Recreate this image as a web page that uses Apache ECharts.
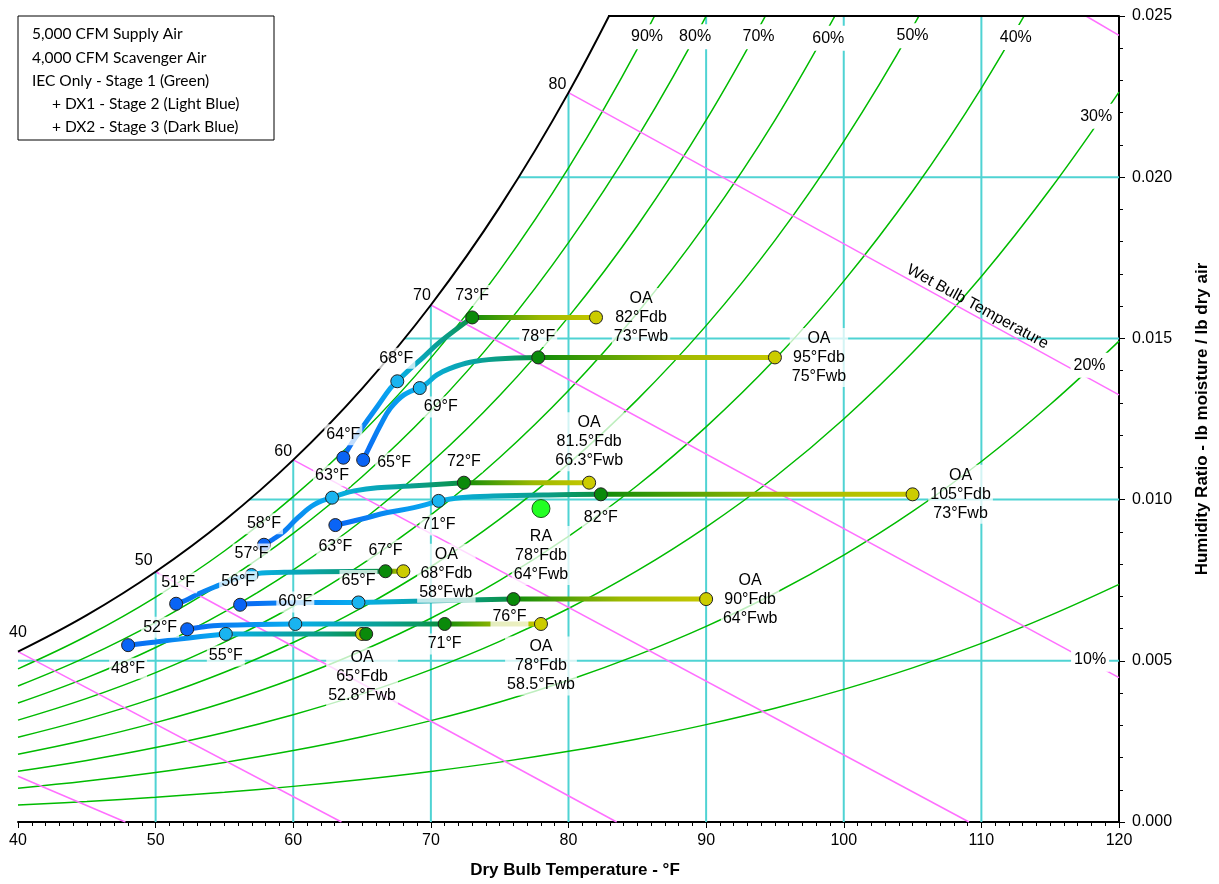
<!DOCTYPE html>
<html><head><meta charset="utf-8">
<script src="https://cdn.jsdelivr.net/npm/echarts@6/dist/echarts.min.js"></script>
<style>html,body{margin:0;padding:0;background:#fff;overflow:hidden;width:1219px;height:884px}#c{position:absolute;left:0;top:0;width:1219px;height:884px}</style>
</head><body><div id="c"></div>
<script>
// ---------- data ----------
const T5 = [40,45,50,55,60,65,70,75,80,85,90,95,100,105,110,115,120];
const sat  = [0.005283,0.006416,0.007762,0.009353,0.011232,0.013444,0.016036,0.019071,0.022623,0.026756];
const rh90 = [0.004751,0.005768,0.006977,0.008406,0.010091,0.012073,0.014396,0.017111,0.020289,0.023979,0.028263];
const rh80 = [0.004220,0.005123,0.006194,0.007461,0.008954,0.010709,0.012763,0.015164,0.017970,0.021226,0.024999,0.029367];
const rh70 = [0.003690,0.004478,0.005413,0.006518,0.007821,0.009351,0.011141,0.013229,0.015668,0.018495,0.021767,0.025548];
const rh60 = [0.003160,0.003834,0.004634,0.005579,0.006692,0.007998,0.009525,0.011306,0.013383,0.015787,0.018566,0.021772,0.025503];
const rh50 = [0.002631,0.003191,0.003857,0.004643,0.005567,0.006651,0.007917,0.009394,0.011114,0.013101,0.015396,0.018041,0.021112,0.024646,0.028715];
const rh40 = [0.002103,0.002551,0.003082,0.003708,0.004445,0.005310,0.006319,0.007492,0.008859,0.010437,0.012257,0.014351,0.016776,0.019564,0.022766,0.026439];
const rh30 = [0.001576,0.001911,0.002309,0.002777,0.003329,0.003973,0.004727,0.005603,0.006622,0.007796,0.009149,0.010702,0.012500,0.014560,0.016922,0.019625,0.022640];
const rh20 = [0.001050,0.001273,0.001538,0.001849,0.002215,0.002644,0.003144,0.003724,0.004399,0.005177,0.006069,0.007095,0.008278,0.009633,0.011182,0.012948,0.014915];
const rh10 = [0.000525,0.000636,0.000768,0.000923,0.001105,0.001319,0.001568,0.001857,0.002192,0.002577,0.003020,0.003528,0.004113,0.004780,0.005542,0.006409,0.007371];
const rhCurves = [rh90,rh80,rh70,rh60,rh50,rh40,rh30,rh20,rh10];
const rhLabelText = ['90%','80%','70%','60%','50%','40%','30%','20%','10%'];
const rhLabelAt = [[85.71,0.02436],[89.2,0.02436],[93.81,0.02436],[98.88,0.02431],[105.0,0.02439],[112.5,0.02433],[118.34,0.02189],[117.86,0.01417],[117.9,0.00505]];

const gridXs = [50,60,70,80,90,100,110];
const gridXTopW = [0.007762,0.011232,0.016036,0.022623,0.025,0.025,0.025];
const gridWs = [0.005,0.010,0.015,0.020];
const gridWFromT = [40,56.8,68.1,76.4];
const topEdge = [[82.88,0.025],[120,0.025]];

const wbLines = [
  [[40,0.00142],[47.8,0]],
  [[40,0.005283],[63.5,0]],
  [[50,0.007762],[83.5,0]],
  [[60,0.011232],[109.1,0]],
  [[70,0.016036],[120,0.00448]],
  [[80,0.022623],[120,0.01325]],
  [[117.6,0.025],[120,0.0244]]
];
const satLabelT = [40,50,60,70,80];
const satLabelW = [0.005283,0.007762,0.011232,0.016036,0.022623];

// process paths: IEC (OA -> green), DX1 (green -> light blue), DX2 (light blue -> dark blue)
const iecPaths = [
  [[82.0,0.01565],[73.0,0.01565]],
  [[95.0,0.01441],[77.8,0.01441]],
  [[81.5,0.010525],[72.4,0.010525]],
  [[105.0,0.010164],[82.35,0.010164]],
  [[68.0,0.007778],[66.7,0.007778]],
  [[90.0,0.006914],[76.0,0.006914]],
  [[78.0,0.006142],[71.0,0.006142]],
  [[65.0,0.005833],[65.3,0.005833]]
];
const dx1Paths = [
  [[73.0,0.01565],[70.68,0.0149],[69.48,0.01443],[68.28,0.01397],[67.56,0.01367]],
  [[77.8,0.01441],[74.77,0.01436],[72.85,0.01426],[71.4,0.01407],[70.44,0.01387],[69.72,0.01361],[69.19,0.01346]],
  [[72.4,0.010525],[68.52,0.01042],[66.11,0.01037],[64.43,0.01027],[63.47,0.01016],[62.82,0.01006]],
  [[82.35,0.010164],[79.34,0.01015],[74.53,0.01011],[72.12,0.01006],[70.56,0.00996]],
  [[66.7,0.007778],[59.6,0.00775],[57.7,0.00772],[56.97,0.00766]],
  [[76.0,0.006914],[64.74,0.00681]],
  [[71.0,0.006142],[60.15,0.006142]],
  [[65.3,0.005833],[55.1,0.005833]]
];
const dx2Paths = [
  [[67.56,0.01367],[67.07,0.01346],[66.11,0.01289],[65.15,0.01232],[64.19,0.01171],[63.64,0.0113]],
  [[69.19,0.01346],[68.04,0.01325],[67.07,0.01284],[66.35,0.01232],[65.63,0.01171],[65.08,0.01123]],
  [[62.82,0.01006],[61.55,0.00985],[60.34,0.00944],[59.38,0.00903],[58.54,0.00877],[57.87,0.0086]],
  [[70.56,0.00996],[68.76,0.00975],[66.84,0.0096],[64.91,0.00939],[63.06,0.00921]],
  [[56.97,0.00766],[55.77,0.00754],[54.57,0.00734],[53.13,0.00708],[52.17,0.00687],[51.49,0.00677]],
  [[64.74,0.00681],[60.0,0.0068],[56.74,0.00677],[56.14,0.006738]],
  [[60.15,0.006142],[54.81,0.0061],[53.37,0.00605],[52.29,0.005978]],
  [[55.1,0.005833],[52.41,0.00571],[50.0,0.005586],[48.0,0.005485]]
];
const oaDb = ['82','95','81.5','105','68','90','78','65'];
const oaWb = ['73','75','66.3','73','58','64','58.5','52.8'];
const greenLabels = ['73°F','78°F','72°F','82°F','67°F','76°F','71°F',''];
const lbLabels = ['68°F','69°F','63°F','71°F','57°F','65°F','60°F','55°F'];
const dbLabels = ['64°F','65°F','58°F','63°F','51°F','56°F','52°F','48°F'];
const raPoint = [78.0,0.009722];
const raText = 'RA\n78°Fdb\n64°Fwb';
const legendLines = ['5,000 CFM Supply Air','4,000 CFM Scavenger Air','IEC Only - Stage 1 (Green)','+ DX1 - Stage 2 (Light Blue)','+ DX2 - Stage 3 (Dark Blue)'];

// ---------- label placement (pixel offsets) ----------
const oaOff = [[45,0],[44,0],[0,-41],[48,0],[43,2],[44,1],[0,42],[0,43]];
const greenOff = [[0,-22],[0,-21],[0,-21],[0,23],[0,-21],[-4,18],[0,20],[0,0]];
const lbOff = [[-1,-23],[21,19],[0,-22],[0,24],[0,-21],[0,-22],[0,-22],[0,22]];
const dbOff = [[0,-23],[31,3],[0,-21],[0,22],[2,-21],[-2,-23],[-27,-2],[0,23]];
const satOff = [[0,-19],[-12,-11],[-10,-8],[-9,-9],[-11,-8]];
const legendX = [32,32,32,52,52];
const legendY = [34, 57.5, 80.5, 104, 127];

// ---------- build ----------
const FF = '"Liberation Sans", Arial, sans-serif';
const chart = echarts.init(document.getElementById('c'), null, {width:1219, height:884});
const LG = echarts.graphic.LinearGradient;
function pairs(arr){ const out=[]; arr.forEach((w,i)=>{ if(w!=null) out.push([T5[i],w]); }); return out; }
function lineS(data, color, width, z, extra){
  return Object.assign({type:'line', data:data, showSymbol:false, symbol:'none', silent:true, animation:false,
    lineStyle:{color:color, width:width}, z:z}, extra||{});
}
const series = [];
gridXs.forEach((x,i)=> series.push(lineS([[x,gridXTopW[i]],[x,0]], '#4fd3d3', 2, 1)));
gridWs.forEach((w,i)=> series.push(lineS([[gridWFromT[i],w],[120,w]], '#4fd3d3', 2, 1)));
rhCurves.forEach(c=> series.push(lineS(pairs(c), '#00bb00', 1.5, 2, {smooth:0.4})));
wbLines.forEach(l=> series.push(lineS(l, '#ff6fff', 1.5, 2)));
series.push(lineS(pairs(sat), '#000', 2, 3, {smooth:0.4}));
series.push(lineS(topEdge, '#000', 2, 3, {clip:false}));
const iecGrad = ()=> new LG(1,0,0,0,[{offset:0,color:'#c8c800'},{offset:0.45,color:'#9cb800'},{offset:1,color:'#0a8a0a'}]);
const dx1Grad = ()=> new LG(1,0,0,1,[{offset:0,color:'#0a8f3a'},{offset:0.3,color:'#0a9c80'},{offset:1,color:'#08b0ee'}]);
const dx2Grad = ()=> new LG(1,0,0,1,[{offset:0,color:'#08b0ee'},{offset:1,color:'#0a66f5'}]);
for(let i=0;i<iecPaths.length;i++){
  series.push(lineS(iecPaths[i], iecGrad(), 5, 4, {smooth:0.4}));
  series.push(lineS(dx1Paths[i], dx1Grad(), 5, 4, {smooth:0.4}));
  series.push(lineS(dx2Paths[i], dx2Grad(), 5, 4, {smooth:0.4}));
}
const last = p=>p[p.length-1];
function dots(data, color, size, border){
  return {type:'scatter', data:data, symbolSize:size, silent:true, animation:false, z:5,
    itemStyle:{color:color, borderColor:border||'#222', borderWidth:1, opacity:1}};
}
series.push(dots(iecPaths.map(p=>p[0]), '#cccc00', 13));
series.push(dots(iecPaths.map(last), '#0a8a0a', 13));
series.push(dots(dx1Paths.map(last), '#19b4f0', 13));
series.push(dots(dx2Paths.map(last), '#0a64f5', 13));
series.push(dots([raPoint], '#22ff22', 18, '#1a5a1a'));

const ptLabels = [];
for(let i=0;i<iecPaths.length;i++){
  ptLabels.push({value:iecPaths[i][0], label:{formatter:'OA\n'+oaDb[i]+'°Fdb\n'+oaWb[i]+'°Fwb', offset:oaOff[i]}});
  if(greenLabels[i]) ptLabels.push({value:last(iecPaths[i]), label:{formatter:greenLabels[i], offset:greenOff[i]}});
  ptLabels.push({value:last(dx1Paths[i]), label:{formatter:lbLabels[i], offset:lbOff[i]}});
  ptLabels.push({value:last(dx2Paths[i]), label:{formatter:dbLabels[i], offset:dbOff[i]}});
}
ptLabels.push({value:raPoint, label:{formatter:raText, offset:[0,47]}});
const baseLabel = {show:true, position:'inside', align:'center', verticalAlign:'middle', fontSize:16, lineHeight:19,
  fontFamily:FF, color:'#000', opacity:1, textBorderWidth:0, textShadowBlur:0};
const hiddenItem = {color:'rgba(0,0,0,0)', opacity:1, borderWidth:0};
series.push({type:'scatter', data:ptLabels, symbolSize:1, silent:true, animation:false, z:10,
  itemStyle:hiddenItem,
  label:Object.assign({}, baseLabel, {backgroundColor:'rgba(255,255,255,0.75)', padding:[1,2]})});
series.push({type:'scatter', data:rhLabelAt.map((p,i)=>({value:p, label:{formatter:rhLabelText[i]}})),
  symbolSize:1, silent:true, animation:false, z:10, itemStyle:hiddenItem,
  label:Object.assign({}, baseLabel, {backgroundColor:'#fff', padding:[3,3]})});
series.push({type:'scatter', data:satLabelT.map((t,i)=>({value:[t,satLabelW[i]], label:{formatter:String(t), offset:satOff[i]}})),
  symbolSize:1, silent:true, animation:false, z:10, clip:false, itemStyle:hiddenItem,
  label:Object.assign({}, baseLabel)});

const option = {
  animation:false,
  backgroundColor:'#fff',
  grid:{left:18, right:92, top:16, bottom:58, containLabel:false},
  xAxis:{type:'value', min:40, max:120, interval:10,
    axisLine:{show:true, onZero:false, lineStyle:{color:'#000', width:2}},
    axisTick:{show:true, length:6, lineStyle:{color:'#000', width:1}},
    minorTick:{show:true, splitNumber:10, length:4, lineStyle:{color:'#000', width:1}},
    splitLine:{show:false}, minorSplitLine:{show:false},
    axisLabel:{fontSize:16, color:'#000', margin:11, fontFamily:FF},
    name:'Dry Bulb Temperature - °F', nameLocation:'middle', nameGap:40,
    nameTextStyle:{fontSize:17, fontWeight:'bold', color:'#000', fontFamily:FF, padding:[0,0,0,13]}},
  yAxis:{type:'value', position:'right', min:0, max:0.025, interval:0.005,
    axisLine:{show:true, onZero:false, lineStyle:{color:'#000', width:2}},
    axisTick:{show:true, length:6, lineStyle:{color:'#000', width:1}},
    minorTick:{show:true, splitNumber:5, length:4, lineStyle:{color:'#000', width:1}},
    splitLine:{show:false}, minorSplitLine:{show:false},
    axisLabel:{fontSize:16, color:'#000', margin:13, fontFamily:FF, formatter:v=>v.toFixed(3)},
    name:'Humidity Ratio - lb moisture / lb dry air', nameLocation:'middle', nameGap:75, nameRotate:90,
    nameTextStyle:{fontSize:17, fontWeight:'bold', color:'#000', fontFamily:FF}},
  series:series
};
chart.setOption(option);

const wb = wbLines[5];
const p1 = chart.convertToPixel({gridIndex:0}, wb[0]);
const p2 = chart.convertToPixel({gridIndex:0}, wb[1]);
const tx = chart.convertToPixel({gridIndex:0}, [109.4, 0.01])[0];
const f = (tx - p1[0])/(p2[0]-p1[0]);
const ax = p1[0] + f*(p2[0]-p1[0]), ay = p1[1] + f*(p2[1]-p1[1]);
const ang = Math.atan2(p2[1]-p1[1], p2[0]-p1[0]);
const graphics = [
  {type:'text', x:ax, y:ay, rotation:-ang, z:20,
   style:{text:'Wet Bulb Temperature', x:0, y:-9, align:'center', verticalAlign:'middle', font:'16px '+FF, fill:'#000'}},
  {type:'rect', x:18, y:16, z:20, shape:{x:0, y:0, width:256, height:124}, style:{fill:'#fff', stroke:'#000', lineWidth:1}}
];
legendLines.forEach((t,i)=> graphics.push({type:'text', x:legendX[i], y:legendY[i], z:21,
  style:{text:t, font:'15.5px Lato, "Open Sans", sans-serif', fill:'#000', verticalAlign:'middle', align:'left'}}));
chart.setOption({graphic:graphics});
</script>
</body></html>
